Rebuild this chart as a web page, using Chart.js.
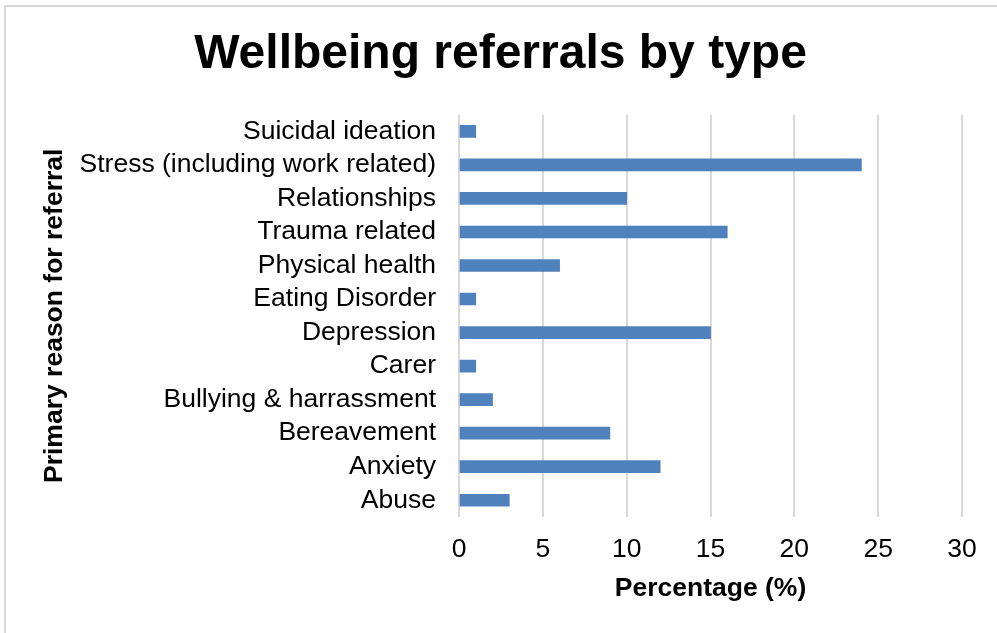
<!DOCTYPE html>
<html>
<head>
<meta charset="utf-8">
<script src="https://cdn.jsdelivr.net/npm/chart.js"></script>
<style>
  html, body { margin: 0; padding: 0; background: #fff; }
  #wrap { position: relative; width: 997px; height: 633px; overflow: hidden; }
  #frame {
    position: absolute; left: 4px; top: 5px; right: -10px; bottom: -10px;
    border-top: 2px solid #d9d9d9; border-left: 2px solid #d9d9d9;
    pointer-events: none;
  }
  canvas { display: block; }
</style>
</head>
<body>
<div id="wrap">
  <canvas id="myChart" width="997" height="633"></canvas>
  <div id="frame"></div>
</div>
<script>
  const categories = [
    'Suicidal ideation',
    'Stress (including work related)',
    'Relationships',
    'Trauma related',
    'Physical health',
    'Eating Disorder',
    'Depression',
    'Carer',
    'Bullying & harrassment',
    'Bereavement',
    'Anxiety',
    'Abuse'
  ];
  const percentages = [1, 24, 10, 16, 6, 1, 15, 1, 2, 9, 12, 3];
  const xTicks = [0, 5, 10, 15, 20, 25, 30];

  const font = 'Arial, "Liberation Sans", sans-serif';

  const ctx = document.getElementById('myChart').getContext('2d');
  const chart = new Chart(ctx, {
    type: 'bar',
    data: {
      labels: categories,
      datasets: [{
        label: 'Percentage',
        data: percentages,
        backgroundColor: '#4f81bd',
        borderWidth: 0,
        barThickness: 12
      }]
    },
    options: {
      indexAxis: 'y',
      responsive: false,
      animation: false,
      layout: { padding: { left: 39, right: 35, top: 0, bottom: 0 } },
      plugins: {
        legend: { display: false },
        tooltip: { enabled: false },
        title: {
          display: true,
          text: 'Wellbeing referrals by type',
          color: '#000',
          font: { family: font, size: 48, weight: 'bold' },
          padding: { top: 26, bottom: 31 }
        }
      },
      scales: {
        x: {
          min: 0,
          max: 30,
          afterBuildTicks: (scale) => { scale.ticks = xTicks.map(v => ({ value: v })); },
          afterFit: (scale) => { scale.height = 116; },
          grid: { color: '#d9d9d9', lineWidth: 2, drawTicks: false },
          border: { display: false },
          ticks: {
            color: '#000',
            padding: 17,
            font: { family: font, size: 26.5 }
          },
          title: {
            display: true,
            text: 'Percentage (%)',
            color: '#000',
            font: { family: font, size: 26.5, weight: 'bold' },
            padding: { top: 0, bottom: 28 }
          }
        },
        y: {
          afterFit: (scale) => { scale.width = 420; },
          grid: { display: false, drawTicks: false },
          border: { display: false },
          ticks: {
            color: '#000',
            padding: 23,
            autoSkip: false,
            font: { family: font, size: 26.5 }
          },
          title: {
            display: true,
            text: 'Primary reason for referral',
            color: '#000',
            font: { family: font, size: 26.5, weight: 'bold' },
            padding: 0
          }
        }
      }
    }
  });
</script>
</body>
</html>
